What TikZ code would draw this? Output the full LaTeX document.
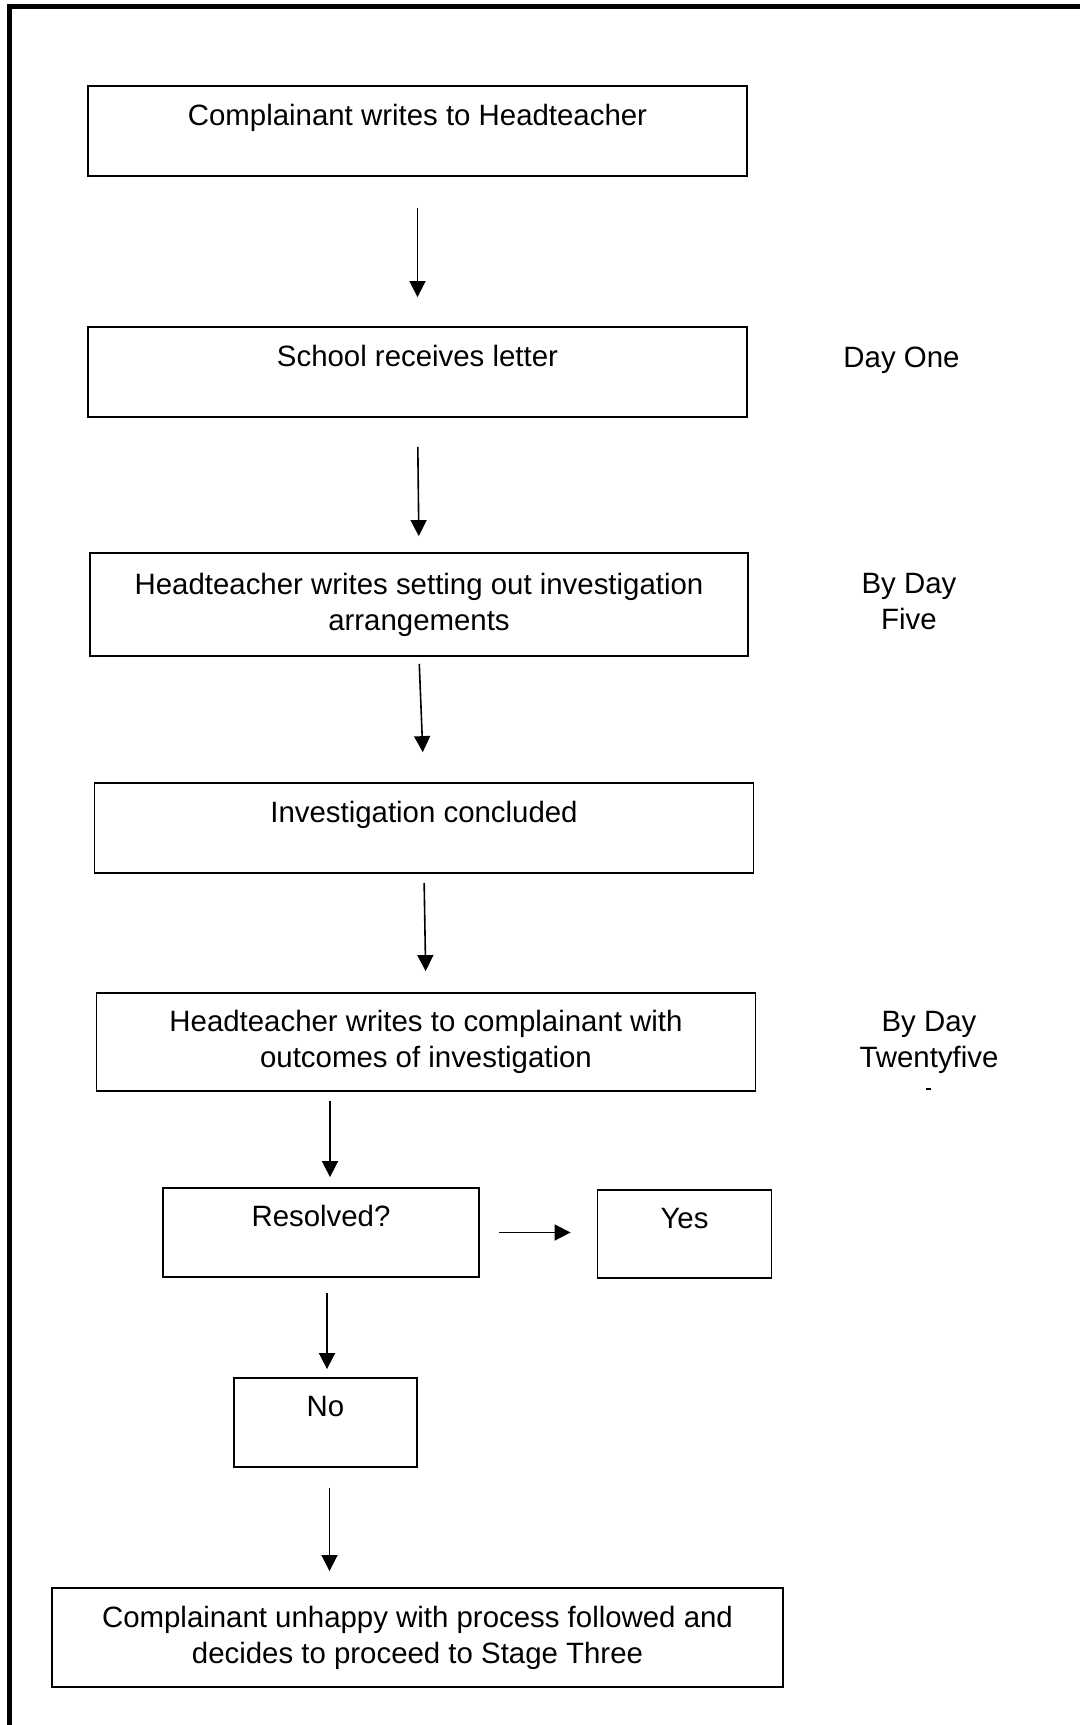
\documentclass[tikz,border=0pt]{standalone}
\usepackage{fontspec}
\setmainfont{Liberation Sans}
\usetikzlibrary{arrows.meta}

\tikzset{
    box/.style={draw, line width=1.8pt, inner sep=0pt, align=center,
        font=\fontsize{29.4}{36}\selectfont},
    onebox/.style={box, text height=21pt, text depth=33pt},
    arr/.style={-{Triangle[length=16pt,width=16pt]}, line width=1.6pt},
    daylabel/.style={align=center, font=\fontsize{29.4}{36}\selectfont}
}

\begin{document}
\begin{tikzpicture}[x=1pt, y=-1pt]
    \useasboundingbox (0,0) rectangle (1080,1725);

    % Frame
    \draw[line width=5pt] (9.5,1725) -- (9.5,6) -- (1080,6);

    % Boxes
    \node[onebox, minimum width=659pt, minimum height=90pt] (write) at (417.5,131) {Complainant writes to Headteacher};
    \node[onebox, minimum width=659pt, minimum height=90pt] (receive) at (417.5,372) {School receives letter};
    \node[box, minimum width=658pt, minimum height=103pt] (arrange) at (419,604.5) {Headteacher writes setting out investigation\\arrangements};
    \node[onebox, minimum width=659pt, minimum height=90pt] (concl) at (424,828) {Investigation concluded};
    \node[box, minimum width=659pt, minimum height=98pt] (outcome) at (426,1042) {Headteacher writes to complainant with\\outcomes of investigation};
    \node[onebox, minimum width=316pt, minimum height=89pt] (resolved) at (321,1232.5) {Resolved?};
    \node[onebox, minimum width=174pt, minimum height=88pt] (yes) at (684.5,1234) {Yes};
    \node[onebox, minimum width=183pt, minimum height=89pt] (no) at (325.5,1422.5) {No};
    \node[box, minimum width=731pt, minimum height=99pt] (stage) at (417.5,1637.5) {Complainant unhappy with process followed and\\decides to proceed to Stage Three};

    % Day labels
    \node[daylabel, anchor=base] (dayone) at (901.5,367) {Day One};
    \node[daylabel] (dayfive) at (909,602) {By Day\\Five};
    \node[daylabel] (daytwf) at (929,1042.5) {By Day\\Twentyfive};
    \fill (926,1087.5) rectangle (931,1089.5);

    % Arrows
    \draw[arr, shorten <=31pt, shorten >=29pt] (write.south) -- (receive.north);
    \draw[arr, shorten <=29pt, shorten >=16pt] (receive.south) -- (arrange.north);
    \draw[arr, shorten <=7pt, shorten >=30pt] (arrange.south) -- (concl.north);
    \draw[arr, shorten <=9pt, shorten >=21pt] (concl.south) -- (outcome.north);
    \draw[arr, shorten <=9pt, shorten >=10pt] ([xshift=9pt]resolved.north |- outcome.south) -- ([xshift=9pt]resolved.north);
    \draw[arr, shorten <=19pt, shorten >=26pt] (resolved.east) -- (resolved.east -| yes.west);
    \draw[arr, shorten <=15pt, shorten >=8pt] ([xshift=6pt]resolved.south) -- ([xshift=6pt]resolved.south |- no.north);
    \draw[arr, shorten <=20pt, shorten >=16pt] ([xshift=4pt]no.south) -- ([xshift=4pt]no.south |- stage.north);
\end{tikzpicture}
\end{document}
